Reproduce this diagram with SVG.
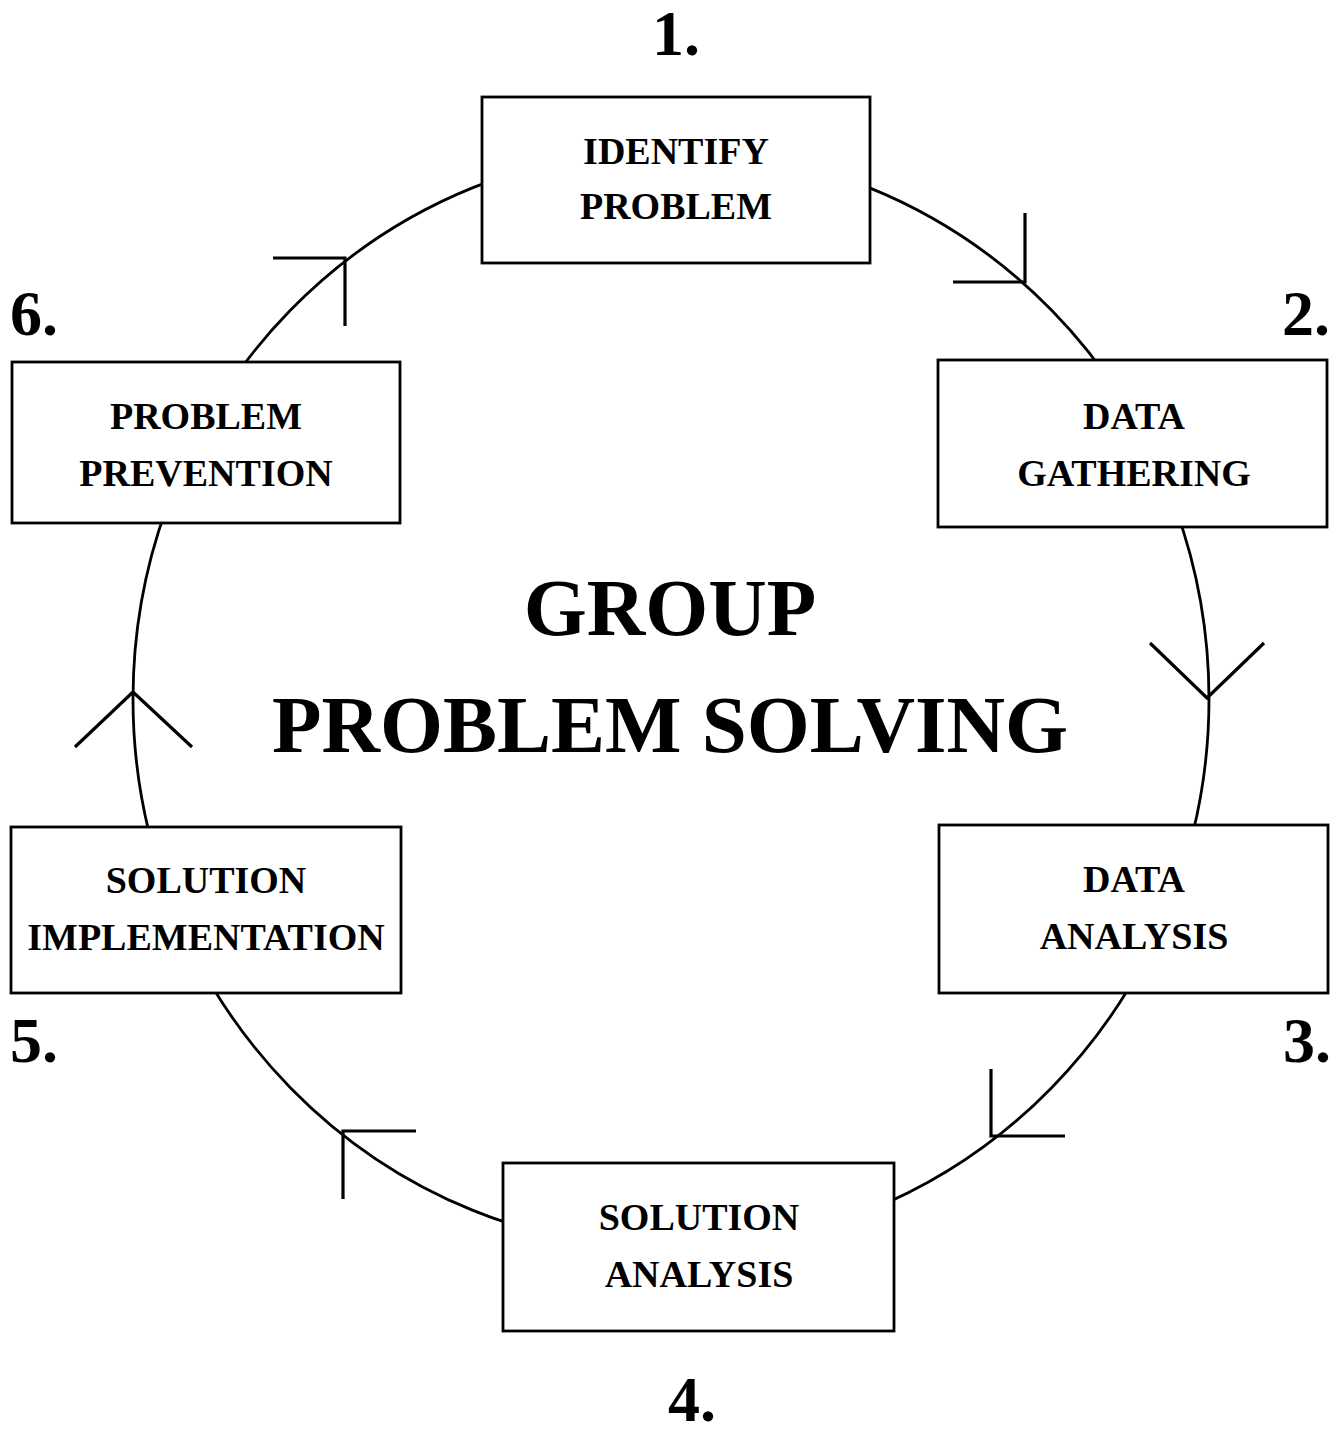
<svg xmlns="http://www.w3.org/2000/svg" width="1344" height="1435" viewBox="0 0 1344 1435">
  <style>
    .box { fill: #ffffff; stroke: #000000; stroke-width: 2.8; }
    .ring { fill: none; stroke: #000000; stroke-width: 2.8; }
    .head { fill: none; stroke: #000000; stroke-width: 3.2; stroke-linecap: butt; }
    .label { font-family: "Liberation Serif", "Times New Roman", serif; font-weight: bold; font-size: 38px; text-anchor: middle; fill: #000000; }
    .num { font-family: "Liberation Serif", "Times New Roman", serif; font-weight: bold; font-size: 64px; fill: #000000; }
    .title { font-family: "Liberation Serif", "Times New Roman", serif; font-weight: bold; font-size: 81px; text-anchor: middle; fill: #000000; }
  </style>
  <rect width="1344" height="1435" fill="#ffffff"/>

  <!-- cycle ring with direction marks -->
  <g id="connectors">
    <ellipse class="ring" cx="671" cy="699" rx="538" ry="550"/>
    <path class="head" d="M1025,213 L1025,282 L953,282"/>
    <path class="head" d="M1150,643 L1207,698 L1264,643"/>
    <path class="head" d="M991,1069 L991,1136 L1065,1136"/>
    <path class="head" d="M416,1131 L343,1131 L343,1199"/>
    <path class="head" d="M75,747 L133,692 L192,747"/>
    <path class="head" d="M273,258 L345,258 L345,326"/>
  </g>

  <g id="title">
    <text class="title" x="670" y="635">GROUP</text>
    <text class="title" x="670" y="752">PROBLEM SOLVING</text>
  </g>

  <g id="step1">
    <rect class="box" x="482" y="97" width="388" height="166"/>
    <text class="label" x="676" y="164">IDENTIFY</text>
    <text class="label" x="676" y="219">PROBLEM</text>
    <text class="num" x="652" y="55">1.</text>
  </g>

  <g id="step2">
    <rect class="box" x="938" y="360" width="389" height="167"/>
    <text class="label" x="1134" y="429">DATA</text>
    <text class="label" x="1134" y="486">GATHERING</text>
    <text class="num" x="1282" y="335">2.</text>
  </g>

  <g id="step3">
    <rect class="box" x="939" y="825" width="389" height="168"/>
    <text class="label" x="1134" y="892">DATA</text>
    <text class="label" x="1134" y="949">ANALYSIS</text>
    <text class="num" x="1283" y="1062">3.</text>
  </g>

  <g id="step4">
    <rect class="box" x="503" y="1163" width="391" height="168"/>
    <text class="label" x="699" y="1230">SOLUTION</text>
    <text class="label" x="699" y="1287">ANALYSIS</text>
    <text class="num" x="668" y="1421">4.</text>
  </g>

  <g id="step5">
    <rect class="box" x="11" y="827" width="390" height="166"/>
    <text class="label" x="206" y="893">SOLUTION</text>
    <text class="label" x="206" y="950">IMPLEMENTATION</text>
    <text class="num" x="10" y="1062">5.</text>
  </g>

  <g id="step6">
    <rect class="box" x="12" y="362" width="388" height="161"/>
    <text class="label" x="206" y="429">PROBLEM</text>
    <text class="label" x="206" y="486">PREVENTION</text>
    <text class="num" x="10" y="335">6.</text>
  </g>
</svg>
